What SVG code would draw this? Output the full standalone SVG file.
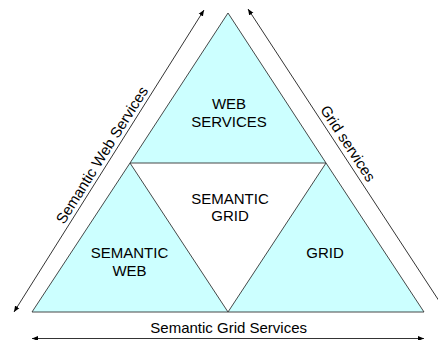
<svg xmlns="http://www.w3.org/2000/svg" width="438" height="340" viewBox="0 0 438 340">
<style>
.tri{fill:#CCFFFF;stroke:#333333;stroke-width:0.9}
.lbl{font-family:"Liberation Sans",Arial,sans-serif;font-size:15px;fill:#000;text-anchor:middle}
.arr{stroke:#000;stroke-width:0.8;fill:none;marker-end:url(#ah);marker-start:url(#ah)}
</style>
<defs>
<marker id="ah" markerUnits="userSpaceOnUse" markerWidth="7" markerHeight="6" refX="6" refY="2.5" orient="auto-start-reverse" viewBox="0 0 7 5">
<path d="M0,0 L6,2.5 L0,5 z" fill="#000"/>
</marker>
</defs>
<rect width="438" height="340" fill="#fff"/>
<g id="web-services">
<polygon class="tri" points="228,13 130,163 326,163"/>
<text class="lbl" x="229" y="109">WEB</text>
<text class="lbl" x="229" y="127">SERVICES</text>
</g>
<g id="semantic-web">
<polygon class="tri" points="130,163 32,312 228,312"/>
<text class="lbl" x="129.5" y="258">SEMANTIC</text>
<text class="lbl" x="129.5" y="276">WEB</text>
</g>
<g id="grid">
<polygon class="tri" points="326,163 228,312 424,312"/>
<text class="lbl" x="325" y="258">GRID</text>
</g>
<g id="semantic-grid">
<text class="lbl" x="230" y="203.5">SEMANTIC</text>
<text class="lbl" x="230" y="221">GRID</text>
</g>
<g id="connectors">
<line class="arr" x1="14" y1="312" x2="204" y2="10"/>
<line class="arr" x1="248" y1="9" x2="445" y2="310"/>
<line class="arr" x1="32" y1="338.5" x2="424" y2="338.5"/>
<text class="lbl" transform="translate(106.3,157.8) rotate(-57.8)">Semantic Web Services</text>
<text class="lbl" transform="translate(343.7,146.3) rotate(56.8)">Grid services</text>
<text class="lbl" x="228.7" y="333">Semantic Grid Services</text>
</g>
</svg>
